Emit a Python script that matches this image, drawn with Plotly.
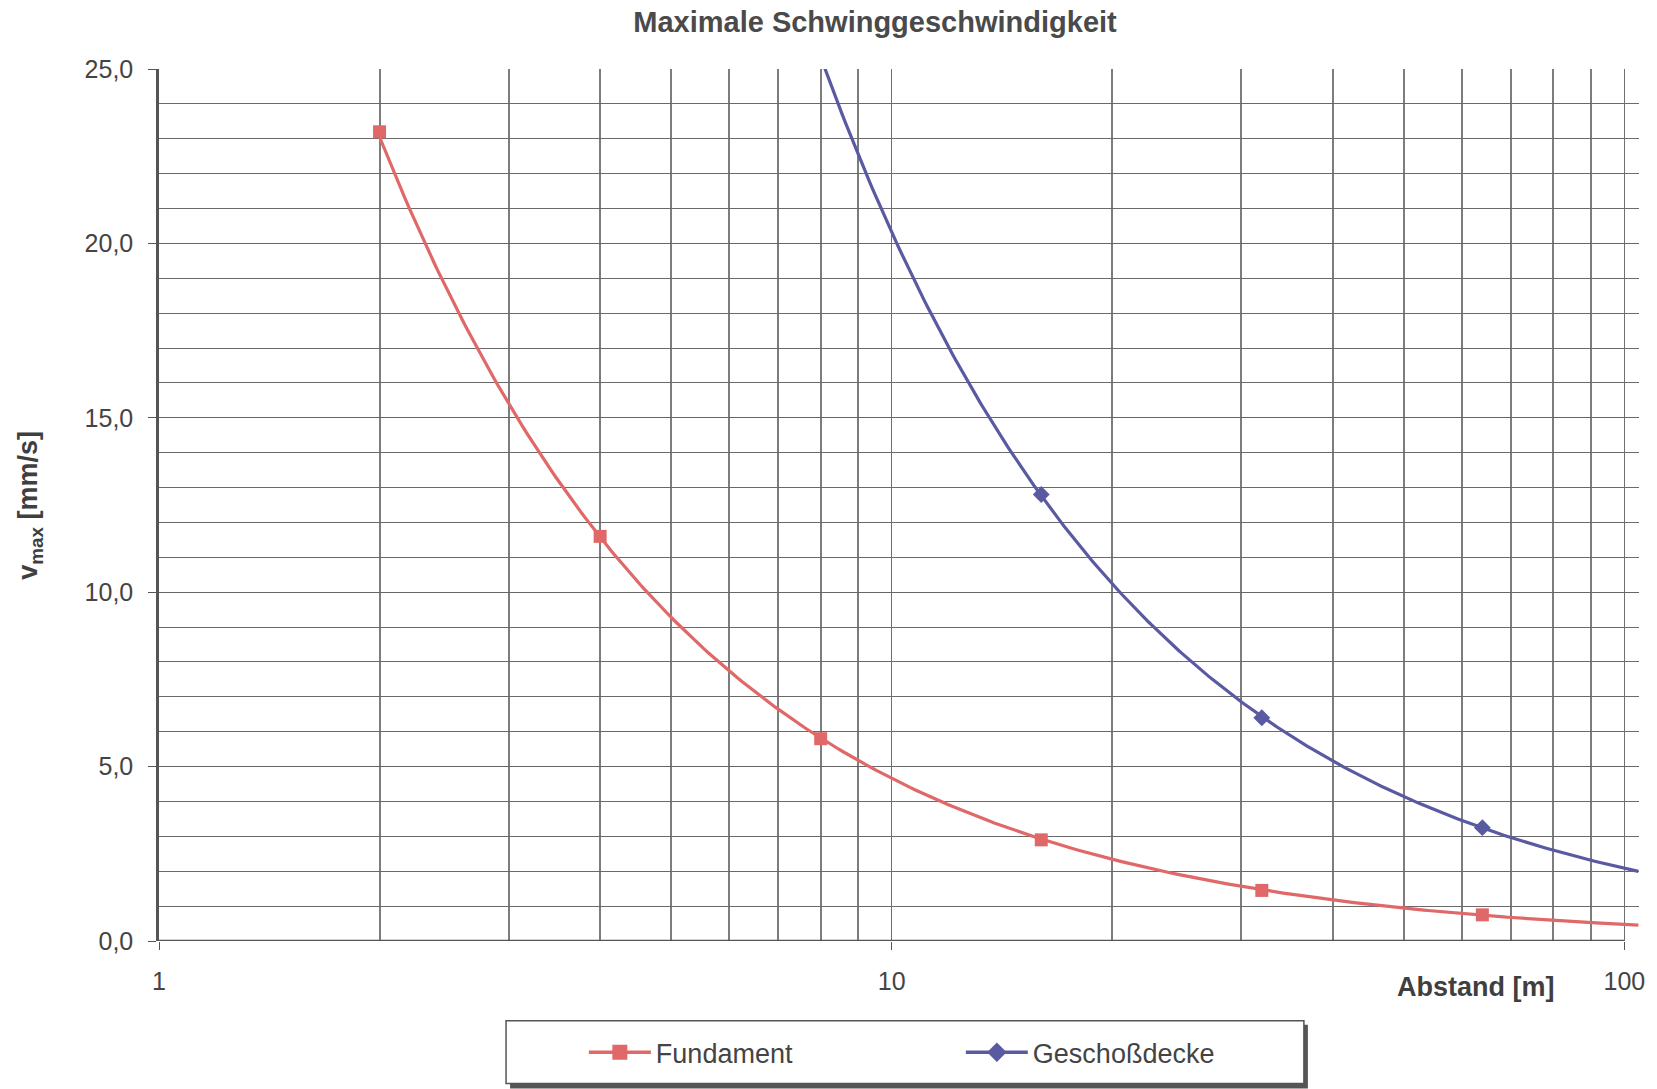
import numpy as np
import plotly.graph_objects as go

# Measured maximum vibration velocity vs. distance
abstand_fundament = [2, 4, 8, 16, 32, 64]
v_fundament = [23.2, 11.6, 5.8, 2.9, 1.45, 0.75]

abstand_decke = [16, 32, 64]
v_decke = [12.8, 6.4, 3.25]

# Trendline extent (distance range of the power-law fit), in m
trend_fundament_range = [2.0, 104.5]
trend_decke_range = [8.0, 104.5]

y_ticks = [0, 5, 10, 15, 20, 25]
x_ticks = [1, 10, 100]
x_minor = [2, 3, 4, 5, 6, 7, 8, 9, 20, 30, 40, 50, 60, 70, 80, 90]

RED = "#e06868"
BLUE = "#5a5aa3"
TXT = "#444444"
FONT = "Liberation Sans, Arial, sans-serif"


def power_fit(x, y, x_range, n=300):
    """Least-squares power-law fit y = a * x^b, evaluated over x_range."""
    b, ln_a = np.polyfit(np.log(x), np.log(y), 1)
    xs = np.logspace(np.log10(x_range[0]), np.log10(x_range[1]), n)
    return xs, np.exp(ln_a) * xs ** b


fig = go.Figure()

for xs, ys, rng, color, symbol, name in [
    (abstand_fundament, v_fundament, trend_fundament_range, RED, "square", "Fundament"),
    (abstand_decke, v_decke, trend_decke_range, BLUE, "diamond", "Geschoßdecke"),
]:
    tx, ty = power_fit(xs, ys, rng)
    fig.add_trace(go.Scatter(x=tx, y=ty, mode="lines", line=dict(color=color, width=3.2),
                             showlegend=False, hoverinfo="skip"))
    fig.add_trace(go.Scatter(x=xs, y=ys, mode="markers", name=name, showlegend=False,
                             marker=dict(symbol=symbol, size=13, color=color)))
    # legend entry: line with marker
    fig.add_trace(go.Scatter(x=[None], y=[None], mode="lines+markers", name=name,
                             line=dict(color=color, width=3.5),
                             marker=dict(symbol=symbol, size=15, color=color)))

# plot area in pixels
L, R, T, B = 159, 1643, 69, 944
W, H = R - L, B - T


def px(x):
    return (x - L) / W


def py(y):
    return (B - y) / H


fig.update_layout(
    width=1657, height=1089,
    margin=dict(l=L, r=1657 - R, t=T, b=1089 - B),
    paper_bgcolor="white", plot_bgcolor="white",
    font=dict(family=FONT, color=TXT),
    title=dict(text="<b>Maximale Schwinggeschwindigkeit</b>", x=875 / 1657, xanchor="center",
               y=1 - 22 / 1089, yanchor="middle", font=dict(size=29, color="#4a4a4a")),
    xaxis=dict(type="log", range=[0, np.log10(104.7)], tickvals=x_ticks,
               ticktext=[str(v) for v in x_ticks],
               tickfont=dict(size=25, color=TXT), ticks="outside", ticklen=8, tickcolor="#555",
               showgrid=True, gridcolor="#6f6f6f", gridwidth=1.3,
               minor=dict(tickvals=x_minor, showgrid=True, gridcolor="#7d7d7d", gridwidth=1.5, ticks=""),
               showline=False, zeroline=False, ticklabelstandoff=10),
    yaxis=dict(range=[0, 25], tickvals=y_ticks, tickformat=".1f",
               tickfont=dict(size=25, color=TXT), ticks="outside", ticklen=8, tickcolor="#555",
               showgrid=True, gridcolor="#666666", gridwidth=1.3,
               minor=dict(dtick=1, showgrid=True, gridcolor="#6a6a6a", gridwidth=1.2, ticks=""),
               showline=True, linecolor="#555555", linewidth=2.5, zeroline=False,
               ticklabelstandoff=10),
    separators=",.",
    legend=dict(orientation="h", x=px(585), xanchor="left", y=py(1056), yanchor="middle",
                font=dict(size=27, color=TXT), bgcolor="rgba(0,0,0,0)", borderwidth=0,
                itemwidth=62, entrywidth=300, entrywidthmode="pixels"),
    showlegend=True,
)

# bottom axis line at y = 0
fig.add_shape(type="line", xref="paper", yref="y", x0=0, x1=px(1628), y0=0, y1=0,
              line=dict(color="#555555", width=2.5), layer="above")

# legend frame with drop shadow
fig.add_shape(type="rect", xref="paper", yref="paper", x0=px(511), x1=px(1311), y0=py(1092),
              y1=py(1028), fillcolor="#555555", line=dict(width=0), layer="below")
fig.add_shape(type="rect", xref="paper", yref="paper", x0=px(507), x1=px(1307), y0=py(1087),
              y1=py(1024), fillcolor="white", line=dict(color="#555555", width=1.5), layer="below")

# axis titles
fig.add_annotation(text="<b>Abstand [m]</b>", xref="paper", yref="paper", x=px(1561), xanchor="right",
                   y=py(990), yanchor="middle", showarrow=False, font=dict(size=27, color="#3f3f3f"))
fig.add_annotation(text="<b>v<sub>max</sub> [mm/s]</b>", xref="paper", yref="paper", x=px(30),
                   xanchor="center", y=py(507), yanchor="middle", textangle=-90, showarrow=False,
                   font=dict(size=27, color="#3f3f3f"))

fig.write_html("out.html")
